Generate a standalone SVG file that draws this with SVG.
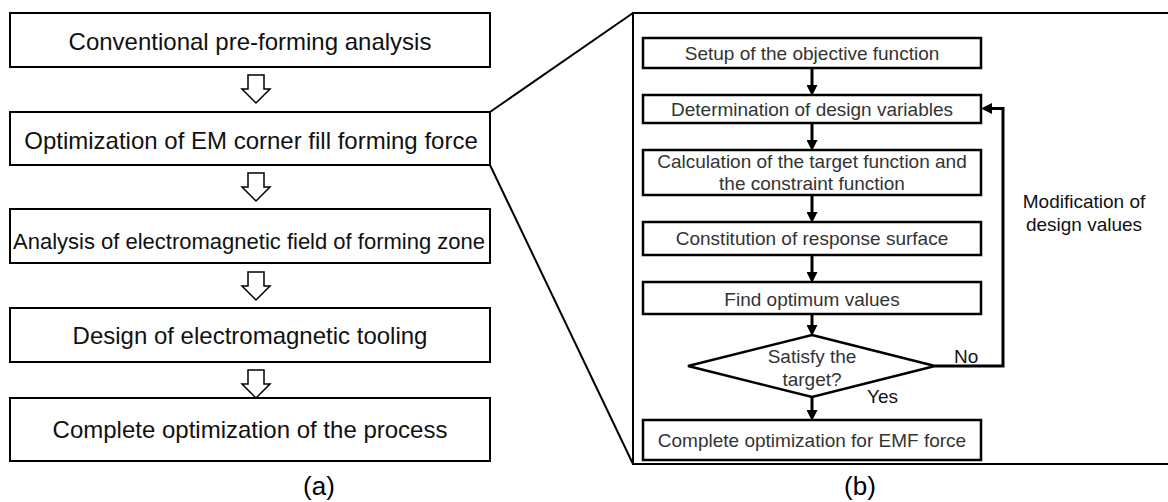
<svg xmlns="http://www.w3.org/2000/svg" width="1168" height="502" viewBox="0 0 1168 502">
<style>
.box{fill:#fff;stroke:#000;stroke-width:2}
.ibox{fill:#fff;stroke:#000;stroke-width:2.5}
.lt{font-family:"Liberation Sans",Arial,sans-serif;font-size:24px;fill:#111;text-anchor:middle}
.it{font-family:"Liberation Sans",Arial,sans-serif;font-size:19px;fill:#333;text-anchor:middle}
.lbl{font-family:"Liberation Sans",Arial,sans-serif;font-size:19px;fill:#111}
.cap{font-family:"Liberation Sans",Arial,sans-serif;font-size:26px;fill:#000;text-anchor:middle}
.hollow{fill:#fff;stroke:#000;stroke-width:1.5;stroke-linejoin:miter}
.conn{fill:none;stroke:#000;stroke-width:3}
.thin{fill:none;stroke:#000;stroke-width:2}
</style>
<defs>
<marker id="ah" viewBox="0 0 10 10" refX="0" refY="5" markerWidth="11" markerHeight="11" markerUnits="userSpaceOnUse" orient="auto">
<path d="M0,0 L10,5 L0,10 Z" fill="#000"/>
</marker>
</defs>

<!-- panel (a) -->
<g id="a1"><rect class="box" x="10" y="13" width="480" height="54"/><text class="lt" x="250" y="50">Conventional pre-forming analysis</text></g>
<g id="a2"><rect class="box" x="10" y="112" width="480" height="53"/><text class="lt" x="251" y="149">Optimization of EM corner fill forming force</text></g>
<g id="a3"><rect class="box" x="10" y="209" width="480" height="54"/><text class="lt" x="249" y="249" style="font-size:22px">Analysis of electromagnetic field of forming zone</text></g>
<g id="a4"><rect class="box" x="10" y="308" width="480" height="54"/><text class="lt" x="250" y="344">Design of electromagnetic tooling</text></g>
<g id="a5"><rect class="box" x="10" y="398" width="480" height="63"/><text class="lt" x="250" y="438">Complete optimization of the process</text></g>

<g id="hollow-arrows">
<path class="hollow" d="M248,75 H264 V89 H270 L256,103 L242,89 H248 Z"/>
<path class="hollow" d="M248,173 H264 V187 H270 L256,201 L242,187 H248 Z"/>
<path class="hollow" d="M248,272 H264 V286 H270 L256,300 L242,286 H248 Z"/>
<path class="hollow" d="M248,370 H264 V384 H270 L256,398 L242,384 H248 Z"/>
</g>

<text class="cap" x="319" y="495">(a)</text>

<!-- zoom lines and frame -->
<g id="frame">
<path class="thin" d="M490,112 L633,13"/>
<path class="thin" d="M490,165 L633,464"/>
<rect x="633" y="13" width="545" height="451" fill="none" stroke="#000" stroke-width="2"/>
</g>

<!-- panel (b) -->
<g id="b1"><rect class="ibox" x="643" y="38" width="338" height="30"/><text class="it" x="812" y="60">Setup of the objective function</text></g>
<g id="b2"><rect class="ibox" x="643" y="95" width="338" height="28"/><text class="it" x="812" y="116">Determination of design variables</text></g>
<g id="b3"><rect class="ibox" x="643" y="150" width="338" height="45"/><text class="it" x="812" y="168">Calculation of the target function and</text><text class="it" x="812" y="190">the constraint function</text></g>
<g id="b4"><rect class="ibox" x="643" y="222" width="338" height="33"/><text class="it" x="812" y="245">Constitution of response surface</text></g>
<g id="b5"><rect class="ibox" x="643" y="282" width="338" height="32"/><text class="it" x="812" y="306">Find optimum values</text></g>
<g id="b6"><path class="ibox" d="M812,335 L935,366 L812,397 L688,366 Z"/><text class="it" x="812" y="363">Satisfy the</text><text class="it" x="812" y="386">target?</text></g>
<g id="b7"><rect class="ibox" x="643" y="420" width="338" height="40"/><text class="it" x="812" y="447">Complete optimization for EMF force</text></g>

<g id="connectors">
<line class="conn" x1="812" y1="68" x2="812" y2="85" marker-end="url(#ah)"/>
<line class="conn" x1="812" y1="123" x2="812" y2="140" marker-end="url(#ah)"/>
<line class="conn" x1="812" y1="195" x2="812" y2="212" marker-end="url(#ah)"/>
<line class="conn" x1="812" y1="255" x2="812" y2="272" marker-end="url(#ah)"/>
<line class="conn" x1="812" y1="314" x2="812" y2="325" marker-end="url(#ah)"/>
<line class="conn" x1="812" y1="397" x2="812" y2="410" marker-end="url(#ah)"/>
<polyline class="conn" points="935,366 1003,366 1003,108.5 992,108.5" marker-end="url(#ah)"/>
</g>

<text class="lbl" x="954" y="363">No</text>
<text class="lbl" x="867" y="403">Yes</text>
<text class="lbl" x="1084" y="208" text-anchor="middle">Modification of</text>
<text class="lbl" x="1084" y="231" text-anchor="middle">design values</text>

<text class="cap" x="860" y="495">(b)</text>
</svg>
